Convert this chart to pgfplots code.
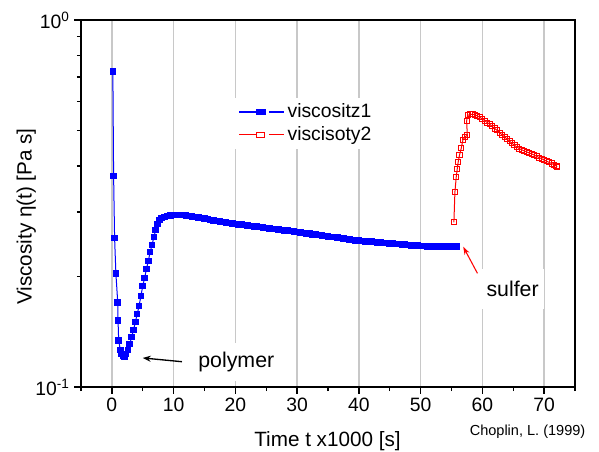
\documentclass[border=0pt]{standalone}
\usepackage{pgfplots}
\pgfplotsset{compat=1.18}
\usepackage{fontspec}
\setmainfont{Liberation Sans}
\usetikzlibrary{arrows.meta}
\definecolor{gridgray}{RGB}{200,200,200}
\begin{document}
\begin{tikzpicture}
\useasboundingbox (-60.75pt,-48.75pt) rectangle (388.5pt,290.25pt);
\begin{axis}[
  at={(0pt,0pt)}, anchor=south west,
  scale only axis, width=370.5pt, height=275.25pt,
  ymode=log, xmin=-5, xmax=75, ymin=0.1, ymax=1,
  xtick={0,10,...,70}, minor xtick={-5,5,...,75},
  ytick={0.1,1}, yticklabels={10\textsuperscript{-1},10\textsuperscript{0}},
  minor ytick={0.2,0.3,0.4,0.5,0.6,0.7,0.8,0.9},
  tick pos=left, tick align=outside,
  major tick length=5pt, minor tick length=3pt,
  every tick/.style={black, line width=1pt},
  axis line style={line width=1.2pt},
  xmajorgrids, major x grid style={gridgray, line width=1pt},
  /pgf/number format/assume math mode=true,
  tick label style={font=\fontsize{14.5}{16}\selectfont},
  every axis x label/.style={at={(axis description cs:0.499,-0.1608)},anchor=base},
  every axis y label/.style={at={(axis description cs:-0.1110,0.4646)},rotate=90,anchor=center},
  label style={font=\fontsize{15.5}{18}\selectfont},
  xlabel={Time t x1000 [s]},
  ylabel={Viscosity η(t) [Pa s]},
  legend style={draw=none, fill=white, at={(axis description cs:0.31,0.7183)}, anchor=west,
    font=\fontsize{14.5}{17}\selectfont, nodes={inner ysep=2.6pt}},
  legend cell align=left,
]
\addplot[blue, line width=0.75pt, mark=square*, mark size=2.1pt, mark options={solid, fill=blue},
  legend image code/.code={
    \draw[blue,line width=0.9pt] (0pt,0pt) -- (13pt,0pt);
    \fill[blue] (13.2pt,-2pt) rectangle (19.6pt,2pt);
    \draw[blue,line width=0.9pt] (22.5pt,0pt) -- (34pt,0pt);
  }] coordinates {
(0.16,0.723)(0.28,0.376)(0.44,0.255)(0.65,0.204)(0.95,0.170)(1.0,0.152)(1.1,0.134)(1.37,0.126)
(1.6,0.123)(1.8,0.1215)(2.0,0.121)(2.3,0.1230)(2.6,0.1261)(2.9,0.1310)(3.2,0.1368)(3.5,0.1429)
(3.8,0.1503)(4.1,0.1580)(4.4,0.1662)(4.7,0.177)(5.0,0.1884)(5.3,0.1982)(5.6,0.2097)(5.9,0.2205)
(6.2,0.2333)(6.5,0.2437)(6.8,0.2563)(7.1,0.2678)(7.4,0.2780)(7.7,0.2851)(8.0,0.2890)(8.5,0.2905)
(9.0,0.2923)(9.5,0.2935)
(10.0,0.2942)(10.5,0.2945)(11.0,0.2942)(11.5,0.2939)(12.0,0.2933)(12.5,0.2924)(13.0,0.2913)(13.5,0.2904)
(14.0,0.2895)(14.5,0.2884)(15.0,0.2874)(15.5,0.2866)(16.0,0.2855)(16.5,0.2846)(17.0,0.2837)(17.5,0.2827)
(18.0,0.2818)(18.5,0.2809)(19.0,0.2798)(19.5,0.2790)(20.0,0.2781)(20.5,0.2774)(21.0,0.2767)(21.5,0.2760)
(22.0,0.2753)(22.5,0.2746)(23.0,0.2739)(23.5,0.2733)(24.0,0.2726)(24.5,0.2719)(25.0,0.2712)(25.5,0.2705)
(26.0,0.2698)(26.5,0.2692)(27.0,0.2685)(27.5,0.2678)(28.0,0.2671)(28.5,0.2665)(29.0,0.2658)(29.5,0.2651)
(30.0,0.2645)(30.5,0.2638)(31.0,0.2630)(31.5,0.2623)(32.0,0.2616)(32.5,0.2608)(33.0,0.2602)(33.5,0.2595)
(34.0,0.2587)(34.5,0.2581)(35.0,0.2573)(35.5,0.2566)(36.0,0.2560)(36.5,0.2552)(37.0,0.2545)(37.5,0.2539)
(38.0,0.2531)(38.5,0.2525)(39.0,0.2518)(39.5,0.2510)(40.0,0.2505)(40.5,0.2500)(41.0,0.2495)(41.5,0.2492)
(42.0,0.2487)(42.5,0.2481)(43.0,0.2478)(43.5,0.2474)(44.0,0.2470)(44.5,0.2467)(45.0,0.2462)(45.5,0.2459)
(46.0,0.2455)(46.5,0.2450)(47.0,0.2446)(47.5,0.2442)(48.0,0.2438)(48.5,0.2433)(49.0,0.2430)(49.5,0.2426)
(50.0,0.2422)(50.5,0.2421)(51.0,0.2419)(51.5,0.2418)(52.0,0.2418)(52.5,0.2416)(53.0,0.2416)(53.5,0.2414)
(54.0,0.2414)(54.5,0.2413)(55.0,0.2413)(55.5,0.2412)(55.8,0.2412)
};
\addlegendentry{viscositz1}
\addplot[red, line width=0.75pt, mark=square, mark size=1.9pt, mark options={solid, fill=white},
  legend image code/.code={
    \draw[red,line width=0.9pt] (0pt,0pt) -- (13pt,0pt);
    \draw[red,line width=0.8pt,fill=white] (13.4pt,-1.9pt) rectangle (19.4pt,1.9pt);
    \draw[red,line width=0.9pt] (22.5pt,0pt) -- (34pt,0pt);
  }] coordinates {
(55.39,0.2811)(55.55,0.3392)(55.77,0.3741)(55.93,0.3927)(56.09,0.4111)(56.3,0.4286)(56.58,0.4471)
(56.84,0.4710)(57.2,0.4800)(57.56,0.4860)(57.45,0.5300)(57.6,0.5495)
(58.0,0.5529)(58.4,0.5536)(58.8,0.5519)(59.2,0.5478)(59.6,0.5426)(60.0,0.5375)(60.4,0.5314)(60.8,0.5255)
(61.2,0.5196)(61.6,0.5128)(62.0,0.5063)(62.4,0.5001)(62.8,0.4929)(63.2,0.4861)(63.6,0.4801)(64.0,0.4741)
(64.4,0.4676)(64.8,0.4612)(65.2,0.4557)(65.6,0.4509)(66.0,0.4459)(66.4,0.4428)(66.8,0.4398)(67.2,0.4370)
(67.6,0.4343)(68.0,0.4316)(68.4,0.4284)(68.8,0.4252)(69.2,0.4219)(69.6,0.4188)(70.0,0.4156)(70.4,0.4125)
(70.8,0.4094)(71.2,0.4064)(71.6,0.4031)(72.0,0.3998)(72.1,0.3985)
};
\addlegendentry{viscisoty2}
\node[fill=white, inner xsep=4pt, minimum height=29pt, font=\fontsize{16}{18}\selectfont] at (axis cs:20.15,0.117) {polymer};
\draw[-{Stealth[length=6pt,width=4.5pt]}, black, line width=1pt] (axis cs:11.35,0.1172) -- (axis cs:5.0,0.120);
\node[fill=white, inner xsep=4pt, minimum height=30pt, font=\fontsize{16}{18}\selectfont] at (axis cs:64.9,0.1849) {sulfer};
\draw[-{Stealth[length=6pt,width=4pt]}, red, line width=0.8pt] (axis cs:59.2,0.2041) -- (axis cs:56.9,0.2411);
\end{axis}
\node[anchor=base, font=\fontsize{10.9}{12}\selectfont] at (334.9pt,-36.4pt) {Choplin, L. (1999)};
\end{tikzpicture}
\end{document}
